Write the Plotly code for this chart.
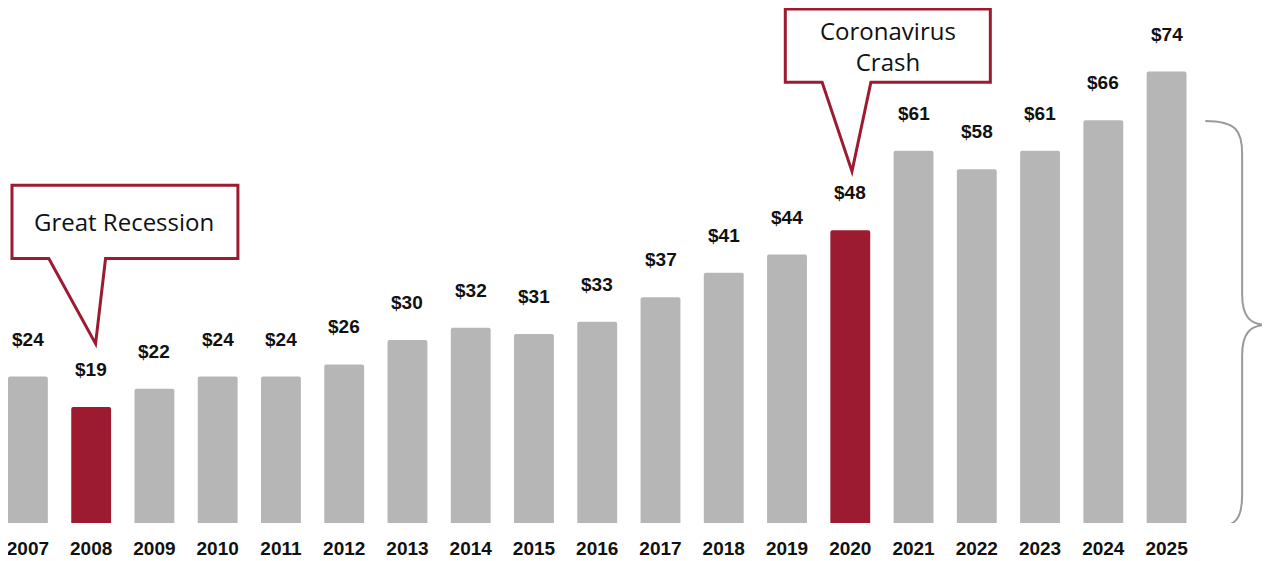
import plotly.graph_objects as go

years = [str(y) for y in range(2007, 2026)]
sales = [24, 19, 22, 24, 24, 26, 30, 32, 31, 33, 37, 41, 44, 48, 61, 58, 61, 66, 74]
highlight = ['2008', '2020']

GRAY = '#b6b6b6'
RED = '#9c1b31'
BOLD = 'Liberation Sans, Arial, sans-serif'

colors = [RED if y in highlight else GRAY for y in years]

# positions below are read in reference pixels; the axes map them onto the
# figure (which sits 8px in from the page corner)
PX_PER_CAT = 63.56
PX_PER_VAL = 6.16
def dx(px):
    return (px - 22) / PX_PER_CAT
def dy(py):
    return (523 - py) / PX_PER_VAL

fig = go.Figure()
fig.add_trace(go.Bar(
    x=list(range(len(years))), y=sales,
    marker=dict(color=colors, line=dict(width=0), cornerradius=2),
    width=0.63,
    hoverinfo='x+y',
))

for i, v in enumerate(sales):
    fig.add_annotation(x=i, y=v, text=f'<b>${v}</b>', showarrow=False, yanchor='bottom',
                       yshift=25, font=dict(family=BOLD, size=19, color='#111111'))


def callout(x0, x1, y0, y1, bx0, bx1, tipx, tipy):
    return (f'M {dx(x0)},{dy(y0)} L {dx(x1)},{dy(y0)} L {dx(x1)},{dy(y1)} '
            f'L {dx(bx1)},{dy(y1)} L {dx(tipx)},{dy(tipy)} L {dx(bx0)},{dy(y1)} '
            f'L {dx(x0)},{dy(y1)} Z')

fig.add_shape(type='path', xref='x', yref='y', layer='above',
              path=callout(6, 233, 182, 256, 43, 100, 90, 342),
              line=dict(color=RED, width=3), fillcolor='white')
fig.add_shape(type='path', xref='x', yref='y', layer='above',
              path=callout(783, 989, 4, 78, 820, 869, 850, 168),
              line=dict(color=RED, width=3), fillcolor='white')

fig.add_annotation(x=dx(119), y=dy(219), text='Great Recession', showarrow=False,
                   font=dict(family='Open Sans', size=24, color='#111111'))
fig.add_annotation(x=dx(886), y=dy(41), text='Coronavirus<br>Crash', showarrow=False,
                   font=dict(family='Open Sans', size=24, color='#111111'))

# brace on the right
b = [(1205, 117), (1236, 117), (1242, 127), (1242, 150), (1242, 292),
     (1242, 315), (1250, 323), (1268, 323), (1250, 323), (1242, 331), (1242, 354),
     (1242, 495), (1242, 520), (1236, 528), (1205, 528)]
p = [(dx(a), dy(c)) for a, c in b]
brace = (f'M {p[0][0]},{p[0][1]} C {p[1][0]},{p[1][1]} {p[2][0]},{p[2][1]} {p[3][0]},{p[3][1]} '
         f'L {p[4][0]},{p[4][1]} C {p[5][0]},{p[5][1]} {p[6][0]},{p[6][1]} {p[7][0]},{p[7][1]} '
         f'C {p[8][0]},{p[8][1]} {p[9][0]},{p[9][1]} {p[10][0]},{p[10][1]} '
         f'L {p[11][0]},{p[11][1]} C {p[12][0]},{p[12][1]} {p[13][0]},{p[13][1]} {p[14][0]},{p[14][1]}')
fig.add_shape(type='path', xref='x', yref='y', path=brace,
              line=dict(color='#9a9a9a', width=2))

fig.update_layout(
    width=1262, height=553,
    margin=dict(l=0, r=0, t=0, b=38),
    plot_bgcolor='white', paper_bgcolor='white',
    showlegend=False,
    xaxis=dict(range=[dx(2), dx(1270)], tickmode='array',
               tickvals=list(range(len(years))), ticktext=[f'<b>{y}</b>' for y in years],
               tickfont=dict(family=BOLD, size=19, color='#111111'),
               showgrid=False, zeroline=False, showline=False, ticks='',
               ticklabelstandoff=12, ticklabeloverflow='allow'),
    yaxis=dict(range=[0, dy(3)], visible=False),
)

fig.write_html('out.html')
